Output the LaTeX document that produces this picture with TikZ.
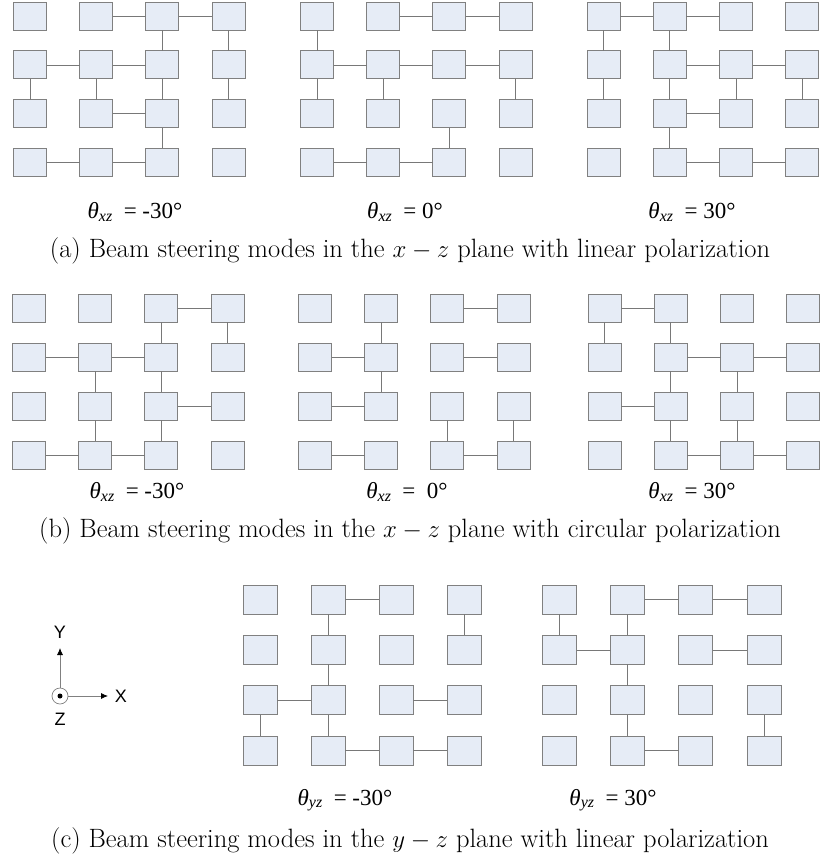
\documentclass[tikz,border=0pt]{standalone}
\usepackage{fontspec}
\usetikzlibrary{arrows.meta}
\newfontfamily\tnr{Liberation Serif}
\newfontfamily\arl{Liberation Sans}
\definecolor{antfill}{RGB}{230,236,246}
\definecolor{antdraw}{RGB}{128,128,128}
\definecolor{conncol}{RGB}{120,120,120}
\tikzset{
  ant/.style={draw=antdraw, fill=antfill, line width=0.9pt, inner sep=0pt, outer sep=0pt},
  conn/.style={draw=conncol, line width=0.8pt},
  thlab/.style={font=\tnr\fontsize{23}{27}\selectfont, inner sep=0pt},
  caplab/.style={font=\fontsize{26.5}{30}\selectfont, inner sep=0pt},
  axlab/.style={font=\arl\fontsize{18}{21}\selectfont, inner sep=0pt},
  axarrow/.style={draw=antdraw, line width=0.8pt, -{Latex[length=7pt,width=6pt,fill=black,color=black]}}
}
% name, x of col 1 centre, y of row 1 centre, col pitch, row pitch, width, height
\newcommand\mygrid[7]{%
  \foreach \r in {1,...,4}{\foreach \c in {1,...,4}{%
    \node[ant, minimum width=#6pt, minimum height=#7pt] (#1-\r-\c) at ({#2+(\c-1)*#4},{#3+(\r-1)*#5}) {};}}}
\newcommand\myhedges[2]{\foreach \r/\c in {#2}{\pgfmathtruncatemacro\cc{\c+1}\draw[conn] (#1-\r-\c) -- (#1-\r-\cc);}}
\newcommand\myvedges[2]{\foreach \r/\c in {#2}{\pgfmathtruncatemacro\rr{\r+1}\draw[conn] (#1-\r-\c) -- (#1-\rr-\c);}}
\newcommand\thl[2]{{\tnr\itshape θ\raisebox{-0.25ex}{\fontsize{16}{18}\selectfont #1}}\ \ {\tnr = #2}}
\begin{document}
\begin{tikzpicture}[x=1pt,y=-1pt]
\useasboundingbox (0,0) rectangle (820,860);
% (a)
\mygrid{al}{30}{16.2}{66.2}{48.7}{33}{28}
\mygrid{am}{317}{16.2}{66.2}{48.7}{33}{28}
\mygrid{ar}{603.5}{16.2}{66.3}{48.7}{33}{28}
\myhedges{al}{1/2,1/3,2/1,2/2,3/2,4/1,4/2}
\myvedges{al}{1/3,1/4,2/1,2/2,2/3,2/4,3/3}
\myhedges{am}{1/2,1/3,2/1,2/2,2/3,4/1,4/2}
\myvedges{am}{1/1,2/1,2/2,2/4,3/3}
\myhedges{ar}{1/1,1/2,2/2,2/3,3/2,4/2,4/3}
\myvedges{ar}{1/1,1/2,2/1,2/2,2/3,2/4,3/2}
\node[thlab] (tal) at (135,212) {\thl{xz}{-30°}};
\node[thlab] (tam) at (405,212) {\thl{xz}{0°}};
\node[thlab] (tar) at (692,212) {\thl{xz}{30°}};
\node[caplab] (capa) at (410,251) {(a) Beam steering modes in the $x-z$ plane with linear polarization};
% (b)
\mygrid{bl}{29}{308}{66.2}{49}{33}{28}
\mygrid{bm}{315}{308}{66.2}{49}{33}{28}
\mygrid{br}{604.5}{308}{66.3}{49}{33}{28}
\myhedges{bl}{1/3,2/1,2/2,3/3,4/1,4/2}
\myvedges{bl}{1/3,1/4,2/2,2/3,3/2,3/3}
\myhedges{bm}{1/3,2/1,2/3,3/1,4/1,4/3}
\myvedges{bm}{1/2,2/2,3/3,3/4}
\myhedges{br}{1/1,2/2,2/3,3/1,4/2,4/3}
\myvedges{br}{1/1,1/2,2/2,2/3,3/2,3/3}
\node[thlab] (tbl) at (137,492) {\thl{xz}{-30°}};
\node[thlab] (tbm) at (407,492) {\thl{xz}{\ 0°}};
\node[thlab] (tbr) at (692,492) {\thl{xz}{30°}};
\node[caplab] (capb) at (410,531) {(b) Beam steering modes in the $x-z$ plane with circular polarization};
% (c)
\mygrid{cl}{260}{599.5}{68}{50.4}{34}{29}
\mygrid{cr}{559.5}{599.5}{68.2}{50.4}{34}{29}
\myhedges{cl}{1/2,3/1,3/3,4/2,4/3}
\myvedges{cl}{1/2,1/4,2/2,3/1,3/2}
\myhedges{cr}{1/2,1/3,2/1,2/3,4/2}
\myvedges{cr}{1/1,1/2,2/2,3/2,3/4}
\node[thlab] (tcl) at (345,800) {\thl{yz}{-30°}};
\node[thlab] (tcr) at (613,800) {\thl{yz}{30°}};
\node[caplab] (capc) at (410,841) {(c) Beam steering modes in the $y-z$ plane with linear polarization};
% axes
\node[circle, draw=antdraw, line width=0.7pt, minimum size=16pt, inner sep=0pt] (zc) at (60,696) {};
\node[circle, fill=black, minimum size=5pt, inner sep=0pt] (zd) at (60,696) {};
\coordinate (ytip) at (60,648);
\coordinate (xtip) at (108,696);
\draw[axarrow] (zc.north) -- (ytip);
\draw[axarrow] (zc.east) -- (xtip);
\node[axlab] (ylab) at (60,632) {Y};
\node[axlab] (xlab) at (121,696) {X};
\node[axlab] (zlab) at (60,719) {Z};
\end{tikzpicture}
\end{document}
